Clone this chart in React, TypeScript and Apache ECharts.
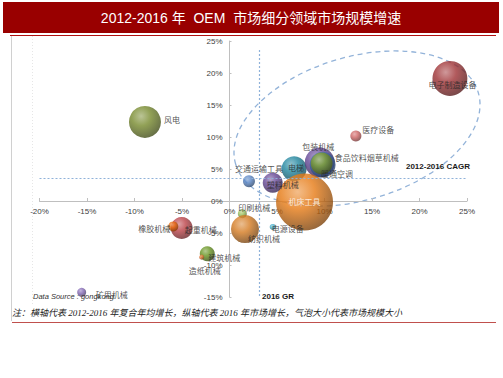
import React, { useEffect, useRef } from "react";
import * as echarts from "echarts";

// ---- data ----
const names = [
  "风电", "电子制造设备", "医疗设备", "电梯", "包装机械", "暖通空调", "食品饮料烟草机械",
  "机床工具", "交通运输工具", "塑料机械", "印刷机械", "纺织机械", "电源设备",
  "起重机械", "橡胶机械", "建筑机械", "造纸机械", "矿用机械",
];
// 2012-2016 CAGR (%)
const cagr = [-8.9, 23.2, 13.3, 6.8, 9.5, 9.8, 9.7, 7.9, 2.05, 4.55, 1.35, 1.63, 4.55, -5.03, -5.92, -2.34, -2.93, -15.56];
// 2016 growth rate (%)
const gr2016 = [12.35, 19.15, 10.15, 5.04, 6.02, 5.68, 5.87, -0.17, 3.09, 2.84, -1.98, -4.38, -4.06, -4.22, -3.97, -8.25, -8.77, -14.26];
// relative market size
const marketSize = [64, 76, 7.6, 39, 56, 42, 30, 203, 9, 25, 5, 49, 2.3, 30, 6.3, 14, 1.6, 5];

const cagrRefLine = 3.62; // horizontal dotted reference (value on y)
const grRefLine = 3.1; // vertical dotted reference (value on x)

const xMin = -20, xMax = 25, xStep = 5;
const yMin = -15, yMax = 25, yStep = 5;

const titleText = "2012-2016 年  OEM  市场细分领域市场规模增速";
const noteText = "注：横轴代表 2012-2016 年复合年均增长，纵轴代表 2016 年市场增长，气泡大小代表市场规模大小";
const sourceText = "Data Source : gongkong";

// ---- styles ----
const colors = [
  "#76892c", "#9e3134", "#cf6464", "#1f859e", "#634696", "#4470b6", "#80a02e",
  "#e67a14", "#5683c4", "#644594", "#9cc05c", "#d47a20", "#46aecb",
  "#bb4147", "#ea6a0c", "#679420", "#ea7d3e", "#8469b6",
];
const labelOffsets: number[][] = [
  [27, -2], [2.5, 6], [22.5, -6.5], [2, -1], [-1.5, -16], [14.5, 9], [45, -6],
  [0, -1], [10, -13], [10, 2], [12, -6], [19, 9], [15, 2],
  [19, 1], [-19, 2], [17, 4], [3, 13], [30, 2],
];

const GRID = { left: 39.5, right: 36, top: 41, bottom: 81 };

function hexToRgb(h: string) {
  const n = parseInt(h.slice(1), 16);
  return [(n >> 16) & 255, (n >> 8) & 255, n & 255];
}
function mix(h: string, t: string, a: number) {
  const c1 = hexToRgb(h), c2 = hexToRgb(t);
  const r = c1.map((v, i) => Math.round(v + (c2[i] - v) * a));
  return `rgb(${r[0]},${r[1]},${r[2]})`;
}

export default function App() {
  const ref = useRef<HTMLDivElement>(null);
  useEffect(() => {
    if (!ref.current) return;
    const chart = echarts.init(ref.current, null, { renderer: "svg" });
    const cjk = '"Noto Sans CJK SC", "Noto Sans", sans-serif';

    // pixel offsets so that the axes cross at (0, 0) as in the reference
    const gridW = 503 - GRID.left - GRID.right;
    const gridH = 378 - GRID.top - GRID.bottom;
    const xZeroPx = (-xMin / (xMax - xMin)) * gridW; // distance from grid left
    const yZeroPx = (-yMin / (yMax - yMin)) * gridH; // distance from grid bottom

    const bubbleData = names.map((n, i) => ({
      name: n,
      value: [cagr[i], gr2016[i], marketSize[i]],
      itemStyle: {
        color: new echarts.graphic.RadialGradient(0.38, 0.32, 0.75, [
          { offset: 0, color: mix(colors[i], "#ffffff", 0.38) },
          { offset: 0.4, color: colors[i] },
          { offset: 1, color: mix(colors[i], "#000000", 0.5) },
        ]),
      },
    }));

    const labelData = names.map((n, i) => ({
      name: n,
      value: [cagr[i], gr2016[i]],
      label: {
        show: true,
        position: "inside",
        offset: labelOffsets[i],
        formatter: n,
        color: n === "机床工具" ? "#ffffff" : "#262626",
        fontSize: 8,
        fontFamily: cjk,
      },
    }));

    chart.setOption({
      animation: false,
      backgroundColor: "#ffffff",
      grid: { ...GRID, containLabel: false },
      xAxis: {
        type: "value",
        min: xMin,
        max: xMax,
        interval: xStep,
        position: "bottom",
        offset: -yZeroPx,
        splitLine: { show: false },
        axisLine: { onZero: false, lineStyle: { color: "#bfbfbf", width: 1 } },
        axisTick: { show: true, inside: true, length: 3, lineStyle: { color: "#bfbfbf" } },
        axisLabel: { formatter: (v: number) => `${v}%`, fontSize: 8, fontFamily: "Arial, Liberation Sans", color: "#404040", margin: 6 },
      },
      yAxis: {
        type: "value",
        min: yMin,
        max: yMax,
        interval: yStep,
        position: "left",
        offset: -xZeroPx,
        splitLine: { show: false },
        axisLine: { onZero: false, lineStyle: { color: "#bfbfbf", width: 1 } },
        axisTick: { show: true, inside: true, length: 2, lineStyle: { color: "#bfbfbf" } },
        axisLabel: { formatter: (v: number) => `${v}%`, fontSize: 8, fontFamily: "Arial, Liberation Sans", color: "#404040", margin: 7 },
      },
      graphic: [
        { type: "rect", shape: { x: 3, y: 2, width: 496, height: 31 }, style: { fill: "#990000" }, z: 10 },
        {
          type: "text",
          x: 251,
          y: 18,
          z: 11,
          style: { text: titleText, fill: "#ffffff", fontSize: 14, fontFamily: '"Liberation Sans", Arial, "Noto Sans CJK SC"', align: "center", verticalAlign: "middle" },
        },
        { type: "line", shape: { x1: 10, y1: 35.5, x2: 496, y2: 35.5 }, style: { stroke: "#b01010", lineWidth: 1.2 }, z: 10 },
        { type: "line", shape: { x1: 11.5, y1: 36, x2: 11.5, y2: 321 }, style: { stroke: "#d0d0d0", lineWidth: 1 }, z: 10 },
        { type: "line", shape: { x1: 32.5, y1: 36, x2: 32.5, y2: 305 }, style: { stroke: "#e6e6e6", lineWidth: 1, lineDash: [1, 2] }, z: 1 },
        { type: "line", shape: { x1: 12, y1: 322.5, x2: 496, y2: 322.5 }, style: { stroke: "#c0504d", lineWidth: 1.2 }, z: 10 },
        {
          type: "group",
          x: 357,
          y: 128.5,
          rotation: 0.287,
          z: 1,
          children: [
            {
              type: "ellipse",
              shape: { cx: 0, cy: 0, rx: 126.5, ry: 71.7 },
              style: { fill: "none", stroke: "#93b3d9", lineWidth: 1.3, lineDash: [5, 4] },
              silent: true,
            },
          ],
        },
        {
          type: "text",
          x: 470,
          y: 166.5,
          z: 11,
          style: { text: "2012-2016 CAGR", fill: "#1a1a1a", fontSize: 8, fontWeight: "bold", fontFamily: "Arial, Liberation Sans", align: "right", verticalAlign: "middle" },
        },
        {
          type: "text",
          x: 262,
          y: 296,
          z: 11,
          style: { text: "2016 GR", fill: "#1a1a1a", fontSize: 8, fontWeight: "bold", fontFamily: "Arial, Liberation Sans", align: "left", verticalAlign: "middle" },
        },
        {
          type: "text",
          x: 33,
          y: 296,
          z: 11,
          style: { text: sourceText, fill: "#333333", fontSize: 7.5, fontStyle: "italic", fontFamily: "Arial, Liberation Sans", align: "left", verticalAlign: "middle" },
        },
        {
          type: "text",
          x: 12,
          y: 313,
          z: 11,
          style: { text: noteText, fill: "#222222", fontSize: 9, fontStyle: "italic", fontFamily: '"Liberation Serif", "Noto Sans CJK SC", serif', align: "left", verticalAlign: "middle" },
        },
      ],
      series: [
        {
          type: "scatter",
          z: 3,
          data: bubbleData,
          symbolSize: (v: number[]) => Math.sqrt(v[2]) * 4,
          label: { show: false },
          markLine: {
            silent: true,
            symbol: "none",
            label: { show: false },
            lineStyle: { color: "#8fb2da", type: [2, 2], width: 1.2 },
            data: [
              [{ coord: [xMin, cagrRefLine] }, { coord: [xMax, cagrRefLine] }],
              [{ coord: [grRefLine, 23.6] }, { coord: [grRefLine, yMin] }],
            ],
          },
        },
        {
          type: "scatter",
          z: 5,
          silent: true,
          symbolSize: 0.1,
          itemStyle: { color: "rgba(0,0,0,0)" },
          data: labelData,
        },
      ],
    });
    return () => chart.dispose();
  }, []);
  return (
    <div
      ref={ref}
      style={{ position: "absolute", left: 0, top: 0, width: 503, height: 378, background: "#fff" }}
    />
  );
}
